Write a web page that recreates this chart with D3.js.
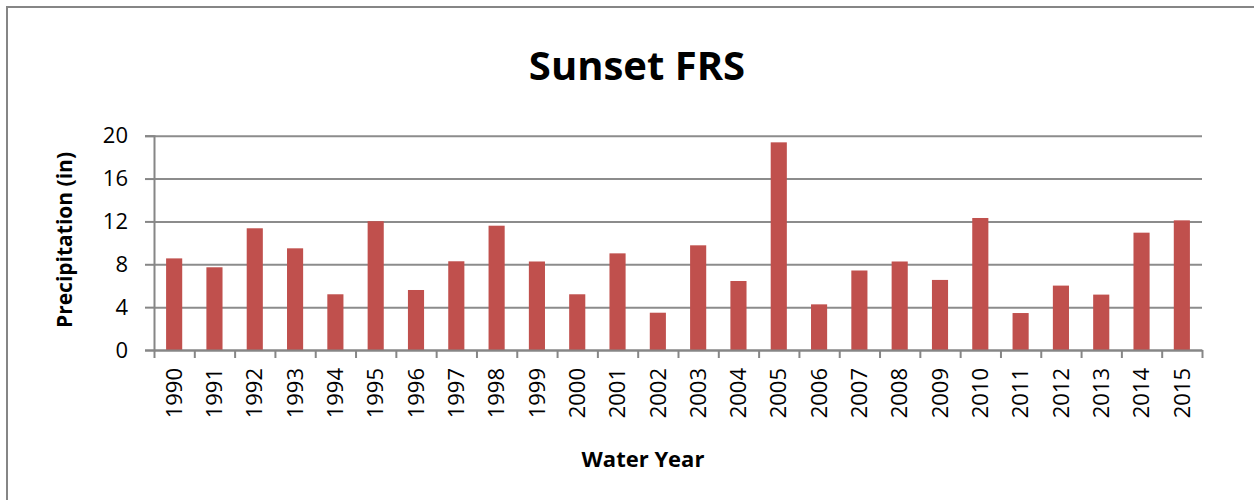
<!DOCTYPE html>
<html>
<head>
<meta charset="utf-8">
<script src="https://cdn.jsdelivr.net/npm/d3@7"></script>
<style>
  body { margin: 0; background: #fff; }
  svg { display: block; font-family: "Open Sans", sans-serif; }
</style>
</head>
<body>
<div id="chart"></div>
<script>
// Sunset FRS yearly precipitation
const years = ['1990','1991','1992','1993','1994','1995','1996','1997','1998','1999',
  '2000','2001','2002','2003','2004','2005','2006','2007','2008','2009',
  '2010','2011','2012','2013','2014','2015'];
const precip = [8.55, 7.72, 11.36, 9.49, 5.2, 12.02, 5.6, 8.28, 11.6, 8.26,
  5.2, 9.02, 3.48, 9.77, 6.44, 19.38, 4.26, 7.42, 8.26, 6.54,
  12.32, 3.45, 6.01, 5.17, 10.95, 12.1];
const yTicks = [0, 4, 8, 12, 16, 20];

const W = 1254, H = 500;
const plotLeft = 154, plotRight = 1202, plotTop = 135.7, plotBottom = 350;

const svg = d3.select('#chart').append('svg')
  .attr('width', W)
  .attr('height', H);

// chart frame (right/bottom edges fall outside the picture)
svg.append('rect')
  .attr('x', 7).attr('y', 7)
  .attr('width', 1260).attr('height', 520)
  .attr('fill', 'none')
  .attr('stroke', '#868686')
  .attr('stroke-width', 2);

const x = d3.scaleBand()
  .domain(years)
  .range([plotLeft, plotRight])
  .paddingInner(0.6)
  .paddingOuter(0.3);

const xEdge = d3.scaleLinear().domain([0, years.length]).range([plotLeft, plotRight]);

const y = d3.scaleLinear().domain([0, 20]).range([plotBottom, plotTop]);

// gridlines
svg.append('g')
  .attr('transform', `translate(${plotLeft},0)`)
  .call(d3.axisLeft(y).tickValues(yTicks).tickSize(-(plotRight - plotLeft)).tickFormat(''))
  .call(g => g.select('.domain').remove())
  .call(g => g.selectAll('line').attr('stroke', '#8c8c8c').attr('stroke-width', 2));

// bars
svg.append('g')
  .selectAll('rect')
  .data(precip)
  .enter()
  .append('rect')
  .attr('x', (d, i) => x(years[i]))
  .attr('y', d => y(d))
  .attr('width', x.bandwidth())
  .attr('height', d => y(0) - y(d))
  .attr('fill', '#c0504d');

// y axis
svg.append('g')
  .attr('transform', `translate(${plotLeft},0)`)
  .call(d3.axisLeft(y).tickValues(yTicks).tickSize(9).tickPadding(17))
  .call(g => g.select('.domain').attr('stroke', '#868686').attr('stroke-width', 2))
  .call(g => g.selectAll('line').attr('stroke', '#868686').attr('stroke-width', 2))
  .call(g => g.selectAll('text')
    .attr('font-family', '"Open Sans", sans-serif')
    .attr('font-size', 22)
    .attr('fill', '#000'));

// x axis: ticks on category edges
svg.append('g')
  .attr('transform', `translate(0,${plotBottom})`)
  .call(d3.axisBottom(xEdge).tickValues(d3.range(years.length + 1)).tickSize(8).tickFormat('').tickSizeOuter(0))
  .call(g => g.select('.domain').attr('stroke', '#868686').attr('stroke-width', 2))
  .call(g => g.selectAll('line').attr('stroke', '#868686').attr('stroke-width', 2));

// x labels, rotated
svg.append('g')
  .attr('transform', `translate(0,${plotBottom})`)
  .call(d3.axisBottom(x).tickSize(0).tickPadding(0))
  .call(g => g.select('.domain').remove())
  .call(g => g.selectAll('text')
    .attr('font-family', '"Open Sans", sans-serif')
    .attr('font-size', 22)
    .attr('fill', '#000')
    .attr('transform', 'rotate(-90)')
    .attr('text-anchor', 'end')
    .attr('x', -18)
    .attr('y', 0)
    .attr('dy', '0.35em'));

// title
svg.append('text')
  .attr('x', 637).attr('y', 80)
  .attr('text-anchor', 'middle')
  .attr('font-size', 40)
  .attr('font-weight', 'bold')
  .text('Sunset FRS');

// axis titles
svg.append('text')
  .attr('x', 643).attr('y', 467)
  .attr('text-anchor', 'middle')
  .attr('font-size', 22)
  .attr('font-weight', 'bold')
  .text('Water Year');

svg.append('text')
  .attr('transform', 'translate(72,240) rotate(-90)')
  .attr('text-anchor', 'middle')
  .attr('font-size', 21)
  .attr('font-weight', 'bold')
  .text('Precipitation (in)');
</script>
</body>
</html>
